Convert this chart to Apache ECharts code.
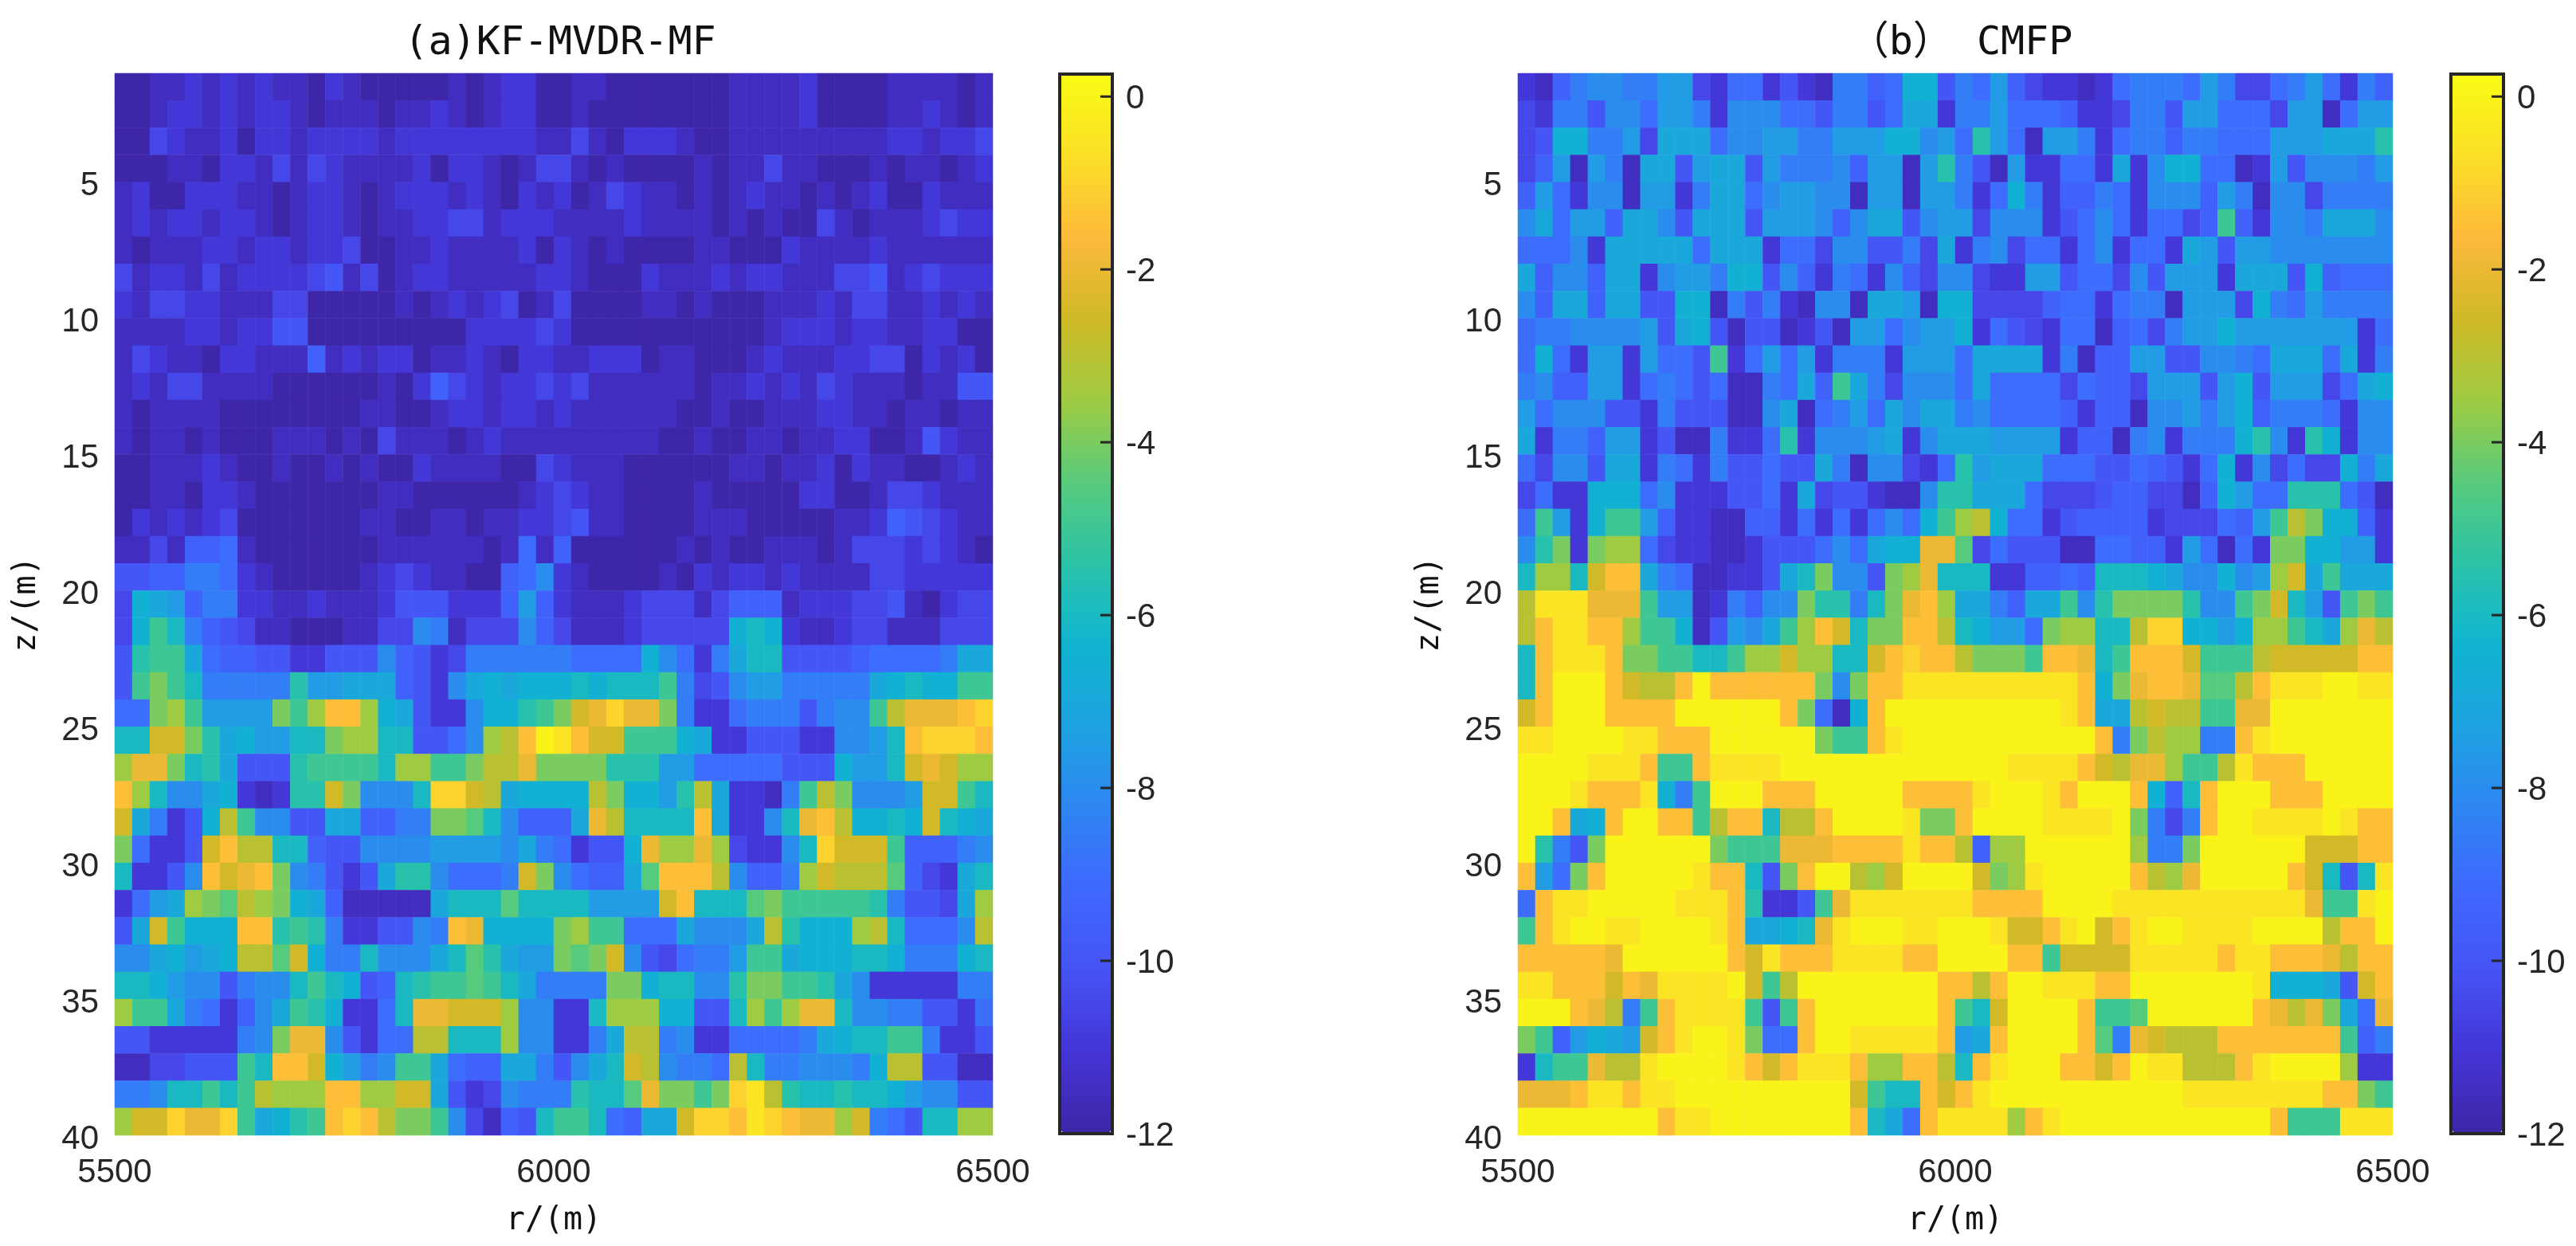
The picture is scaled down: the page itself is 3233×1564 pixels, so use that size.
<!DOCTYPE html>
<html>
<head>
<meta charset="utf-8">
<title>KF-MVDR-MF / CMFP</title>
<script src="https://cdn.jsdelivr.net/npm/echarts@6/dist/echarts.min.js"></script>
<style>
html,body{margin:0;padding:0;background:#fff}
#main{width:3233px;height:1564px}
</style>
</head>
<body>
<div id="main"></div>
<script>
// tick labels
var rTicks = [5500, 6000, 6500];
var zTicks = [5, 10, 15, 20, 25, 30, 35, 40];
var dbTicks = [-12, -10, -8, -6, -4, -2, 0];

// one row per depth, 50 cells per row
// each cell is a base-25 digit, 0 = 0 dB ... o = -12 dB, in steps of 0.5 dB
var kfRows = [
	"oonnmnmnmn nomnooooon onmmoonnoo ooooonnnnm oooonnnnon",
	"oonmmnmnmm nonnnonnmn onmmoonooo ooooonnnnm oooonnmnon",
	"oolmnnmomm nmmmmnmmmm mmmmnnlnom mmnoonnnnn nnnnmmnmml",
	"ooonnommnl nlmnnnnmom mnonllnono ooononnlnn ooononnonm",
	"nmoommmnno nmmnonmmmn mnomnmonlm nnononmnno nonmoomnnn",
	"nmnmmnmmno nmmnonnmml lnmmmnnnnm nnnnononoo lnonnnmlmm",
	"nonnnmmnmm nmmloonnmn nnnmomnono ooonnooomn nnnmnnnnnn",
	"lnmmnlnmmm mlknlonmmn nnnnmmnooo mnnnmnmmnn nllknmlmmm",
	"mnllmmnnnl looooononm nmlonloooo nnonooonnn mnllnnmnmn",
	"nnnnmmnmmk kooooooooo mmmmlmoooo ooooooonmm mnmmnnmmoo",
	"nlmnnommnn njnmnmmonn mnommnnmmm onnooonmnn nmmllomnmo",
	"nmnllnnnno ooooonomjl mnmmlmlnnn nnnonnmnmn lmnnnonnkk",
	"nonnnnoooo oooonnoonm mnmmnmnnnn nnoonoonnn mmnnonnonn",
	"nonnonooon nnonolnnno nmnnnnnnnn noonoonnon nmmoonkmnn",
	"oonnnmnoon oononoomnn nnoolmnnno ooooonnonn momnnoonmn",
	"oonnommnoo ooooonnooo ooonmlmnno ooonooooom moonllmnnn",
	"omnmnmlooo oooonnoonn onnmmlknno ooonnnoooo onnmjklmnn",
	"nnlnjjinoo ooooonnnnn noninjoooo oononoonnn onlllmlmno",
	"kkjjhhimno oooonmlmnn oojigmnooo onomnmmnmn nnnllmmmmm",
	"ldefjhhmmn nmnnnmkkkm mmjfjmnnnm lllnljjjnm mmllknomll",
	"ldachjklnn ooonnllghn lllgjlnnnm llllldcdmn nmllnnnlll",
	"kbaaeijjkk mmkkkgjkml hhhhhhiiii dgimhecckk kkjiiiihee",
	"ka8achhhhh bffeeejkmg ededddcdcc cahlkgffhh hhhedcddaa",
	"ii87affff8 a7337dekmm gddba85424 48hmmihhhk hgga644432",
	"cc558bedff cc877cckki g76301355a aademmkkkm mggfc32223",
	"7448cbekkk baaaac77aa 86648888bb bffiiiiikk kdffc54577",
	"37cggedmnm bb58gggc22 56edddd68d dfb6emmnha 68gggf55ac",
	"5ehmkd6agg kkeejjhh88 9cgjjje46c ccc3emmgc4 36ddcd5cde",
	"8immk5366c cjkkggggff ffgehimkkd 47747lmmgc 2555ajjjhg",
	"cmmkg35438 ghkmkebbgi iih58gijje 93336gjjh7 56669jlmec",
	"mife789678 dejnnnnnec cc9ccccfff f53ccc98aa aaabhkkle7",
	"ke5addd33b abhmmkkgh3 4dddd87aai iieggge6bd dd76ciiig6",
	"ggedfed669 5dhhcgggec 9beff8985g klihhfaaed ddccdhhhdc",
	"ccdfggkhgg cacdkjcbaa 9acehhhh88 dccggb88aa begmmmmmhh",
	"7aaehimjge abdmmic445 557ggmmc77 7ddkkc7a74 4cgghhkkmi",
	"kkmmmmmhg8 44gkmii66c cc7ggmmhe6 6hgmmiiiih edccaahmmk",
	"nnllkkkac3 35dfhgaaei jjeehkgec5 6ghhi6chhg gghd66kknn",
	"hhgccaca67 77337755ek mlghhhbcc9 488a8216bc cbccdfggkk",
	"7552442aed ba323688ag lnjkcaacij ee52231234 475hikcc77"
];
var cmfpRows = [
	"mnjhgghhff lmiimkmnhh jiddkhifjl mmnmihhhif hllihfimhj",
	"lmhhkggiff hmgggiikhh kieemhhfii ijmmlhhkff iiilffniff",
	"lkddhhflee eiggffhhff fddgfibfin ffhmihhjhh iiifffeeeb",
	"ljfnfhneek feekfhhhgj ffnfbhknfm miimemgddi inmfkggghf",
	"jfimggnffm heeigffggn ffnffhmidh mjjhimgggj fhngglhhhh",
	"geiffjeegk eeekfffgjg eekgfflggg mkigimiilj ajmggheeeg",
	"iiigmeeeee ieeemiilgg kkhlemhgli imigmiimef kffggggggg",
	"ejggjeemgf fhddkgjmhi mgjlgglmmf fkiilgkfff meeekdjiii",
	"gjeejeekkd dnhkhmnggn eefnddllll jiimihhnff fldhifhhhh",
	"ihhggggfke dknkknmknf figffdmikl miinjilhff dfffffffmi",
	"idimffmfii kamififmhh hmfffieeee mhnjjffkkg ghieeeiemh",
	"hgjjffmihi kinnhiejae hlgggieiii ilijjlfffk fdkffflied",
	"figggkkmhk kknngenihf iegeehgiii ijmjjnggfh fdjhhhimgg",
	"emhhjffmkn nhmmibmggg femgeeefff fmjjnhgmhh hdbgmbdmgg",
	"ilggkeemhi mhkkikkehn gglmibfeee iiikkijkmi dmglilldhe",
	"limmdddigm mmkkimelkk mnngbbeeei lllkjjllnj dfiibbbikn",
	"iafmdaafjm mnnjjmimim igida76dii mkjjjjmlll ijfa68ddjm",
	"gb8m877ilm mnnmkkkigi edd449likk knniijjmfi nim88ddffm",
	"c77c533ehi nnmmkec8gg k874cccmmj jijcccdegg dgf75eaeee",
	"6111444aff nmhjgg8bbh c8437eehje eagb8888bg ga85cfka8a",
	"6311337aad nkfgea735c 88336cdffi 877cc622dd fd77ace746",
	"c3111388aa cca77577cc 532336888a 334ca3335a aa65555533",
	"c300035663 03333338g8 3311111111 113d843349 9631110011",
	"5300033330 0000038ind 3000000000 013ee6566a a440000000",
	"1100001133 30000008aa 3100000000 0003h8677h h310000000",
	"00001113aa 3111100000 0000000011 11356447aa 6133300000",
	"00013331dh a000333000 0033331000 130003djc3 0003330000",
	"003ed30033 a633c66300 0018830000 111108hlh3 0011110133",
	"0bhk800000 08aaa44433 331336j770 000007hh80 0000055533",
	"3fi8300000 133ck83006 7500005871 0000036740 000035ckc1",
	"i311000001 113bmmka41 1111113333 0000111111 111114aa10",
	"a310011000 013eedc410 0011000155 3105310011 1100006330",
	"3333340000 0035133311 1133000033 a555511111 3113334633",
	"1133353411 1105a60000 0000336300 1113300000 001dddek53",
	"000346ha31 111aka3000 00003ac500 003aa90000 0034648ei4",
	"8ajfdef531 0018ii3001 11113fe300 0039h45666 3333333ajh",
	"mcaa466100 0013531113 77336c3100 0335301166 63100007mm",
	"4443113110 0000000005 acc3531000 0000000011 111111338a",
	"0000000031 1000000003 cei3111173 1000000000 0003aaa111"
];

// colorbar range and its colour ramp
var dbMin = -12;
var dbMax = 0.26;
var ramp = ['#3e26a8', '#4435d6', '#4554f4', '#3f68ff', '#2e86f2', '#1ea3e0', '#10b4d0',
	'#2bc3a8', '#58cb7c', '#9ecb42', '#cfb926', '#fdb93b', '#fadf27', '#f9fb15'];

// turn the row strings into [col, row, dB] for the heatmap
function toCells(rows) {
	var cells = [];
	rows.forEach(function (row, y) {
		row.replace(/ /g, '').split('').forEach(function (ch, x) {
			cells.push([x, y, parseInt(ch, 25) / -2]);
		});
	});
	return cells;
}

function indexList(n) {
	var list = [];
	for (var i = 0; i < n; i++) list.push(i);
	return list;
}

// colorbar tick: a short stroke inside the right edge of the bar
function renderBarTick(params, api) {
	var pt = api.coord([1, api.value(1)]);
	return {
		type: 'line',
		shape: { x1: pt[0] - 15, y1: pt[1], x2: pt[0], y2: pt[1] },
		style: { stroke: '#262626', lineWidth: 3 }
	};
}

var tickFont = { fontFamily: 'Liberation Sans', fontSize: 42, color: '#262626' };
var nameFont = { fontFamily: 'DejaVu Sans Mono, Noto Sans CJK SC', fontSize: 40, color: '#111' };
var titleFont = { fontFamily: 'DejaVu Sans Mono, Noto Sans CJK SC', fontSize: 50, fontWeight: 'normal', color: '#111' };

var panels = [
	{ left: 144, width: 1102, barLeft: 1330, title: '(a)KF-MVDR-MF', titleX: 698, rows: kfRows },
	{ left: 1905, width: 1098, barLeft: 3076, title: '（b） CMFP', titleX: 2456, rows: cmfpRows }
];
var gridTop = 92, gridHeight = 1333;

var option = { animation: false, title: [], grid: [], xAxis: [], yAxis: [], visualMap: [], series: [] };

panels.forEach(function (p, i) {
	var heatGrid = i * 3, axisGrid = i * 3 + 1, barGrid = i * 3 + 2;

	option.title.push({
		text: p.title, left: p.titleX, top: 25, textAlign: 'center', textStyle: titleFont
	});

	// heatmap cells
	option.grid.push({ left: p.left, top: gridTop, width: p.width, height: gridHeight });
	option.xAxis.push({ gridIndex: heatGrid, type: 'category', data: indexList(50), show: false });
	option.yAxis.push({ gridIndex: heatGrid, type: 'category', data: indexList(39), inverse: true, show: false });
	option.series.push({
		type: 'heatmap',
		xAxisIndex: heatGrid,
		yAxisIndex: heatGrid,
		data: toCells(p.rows),
		progressive: 0,
		emphasis: { disabled: true }
	});
	var heatSeries = option.series.length - 1;

	// value axes over the cells: cell edges fall on z = 1..40
	option.grid.push({ left: p.left, top: gridTop, width: p.width, height: gridHeight });
	option.xAxis.push({
		gridIndex: axisGrid, type: 'value', min: 5500, max: 6500, interval: 500,
		name: 'r/(m)', nameLocation: 'middle', nameGap: 88, nameTextStyle: nameFont,
		axisLine: { show: false }, axisTick: { show: false }, splitLine: { show: false },
		axisLabel: Object.assign({
			margin: 26, customValues: rTicks,
			formatter: function (v) { return String(v); }
		}, tickFont)
	});
	option.yAxis.push({
		gridIndex: axisGrid, type: 'value', min: 1, max: 40, inverse: true,
		name: 'z/(m)', nameLocation: 'middle', nameGap: 90, nameTextStyle: nameFont,
		axisLine: { show: false }, axisTick: { show: false }, splitLine: { show: false },
		// labels sit a little below their ticks in the reference
		axisLabel: Object.assign({ margin: 20, customValues: zTicks, verticalAlign: 'top', lineHeight: 10 }, tickFont)
	});

	// colorbar frame, ticks and labels
	option.grid.push({
		left: p.barLeft, top: 93, width: 66, height: 1330,
		show: true, borderColor: '#262626', borderWidth: 4, backgroundColor: 'transparent'
	});
	option.xAxis.push({ gridIndex: barGrid, type: 'value', min: 0, max: 1, show: false });
	option.yAxis.push({
		gridIndex: barGrid, type: 'value', position: 'right', min: dbMin, max: dbMax,
		axisLine: { show: false, onZero: false }, axisTick: { show: false }, splitLine: { show: false },
		axisLabel: Object.assign({ margin: 17, customValues: dbTicks, verticalAlign: 'top', lineHeight: 6 }, tickFont)
	});
	option.series.push({
		type: 'custom',
		xAxisIndex: barGrid,
		yAxisIndex: barGrid,
		data: dbTicks.map(function (v) { return [1, v]; }),
		renderItem: renderBarTick,
		silent: true,
		z: 10
	});

	option.visualMap.push({
		type: 'continuous',
		seriesIndex: heatSeries,
		min: dbMin,
		max: dbMax,
		calculable: false,
		hoverLink: false,
		realtime: false,
		left: p.barLeft + 2,
		top: 95,
		padding: 0,
		itemWidth: 62,
		itemHeight: 1326,
		text: null,
		inRange: { color: ramp }
	});
});

var chart = echarts.init(document.getElementById('main'), null, { renderer: 'canvas' });
chart.setOption(option);
</script>
</body>
</html>
